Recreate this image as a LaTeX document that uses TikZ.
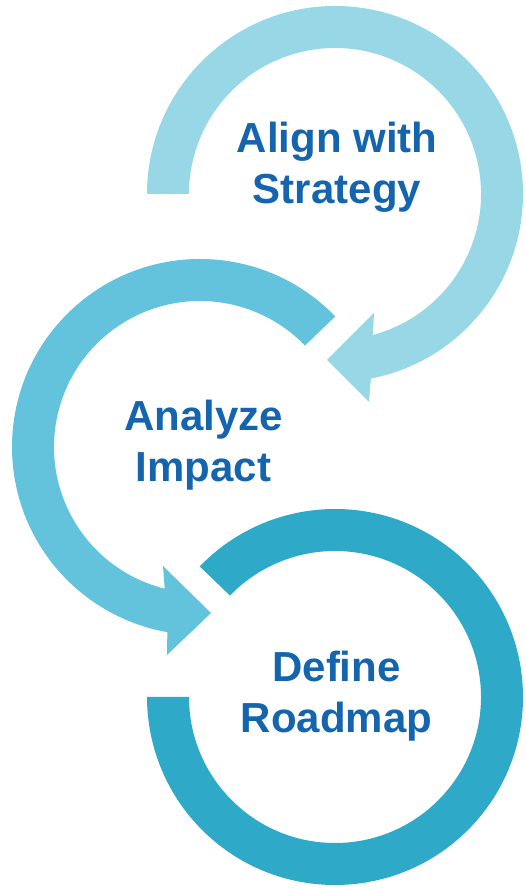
\documentclass[tikz,border=0pt]{standalone}
\usepackage{fontspec}
\setmainfont{Liberation Sans}
\definecolor{arrowA}{HTML}{97D7E6}
\definecolor{arrowB}{HTML}{63C3DC}
\definecolor{arrowC}{HTML}{2EA9C7}
\definecolor{labelblue}{HTML}{1464AE}
\tikzset{
  steplabel/.style={align=center, inner sep=0pt, text=labelblue,
    font=\fontsize{42}{51}\selectfont\bfseries}
}
\begin{document}
\begin{tikzpicture}[x=1pt,y=1pt]
\useasboundingbox (0,0) rectangle (525,888);
% top arrow
\fill[arrowA, shift={(335,694)}]
  (180:188) arc[start angle=180, end angle=-79, radius=188]
  -- (34,-208) -- (-8,-166) -- (39,-119) -- (-75:146)
  arc[start angle=-75, end angle=180, radius=146] -- cycle;
% middle arrow
\fill[arrowB, shift={(200,441)}]
  (44:188) arc[start angle=44, end angle=260, radius=188]
  -- (-33,-208) -- (11,-166) -- (-37,-119) -- (256:146)
  arc[start angle=256, end angle=44, radius=146] -- cycle;
% bottom arrow
\fill[arrowC, shift={(335,191)}]
  (136:188) arc[start angle=136, end angle=-180, radius=188]
  -- (-180:146) arc[start angle=-180, end angle=136, radius=146] -- cycle;
% labels
\node[steplabel] (align) at (337,720.4) {Align with\\Strategy};
\node[steplabel] (analyze) at (203.5,442.4) {Analyze\\Impact};
\node[steplabel] (define) at (336.5,191.4) {Define\\Roadmap};
\end{tikzpicture}
\end{document}
